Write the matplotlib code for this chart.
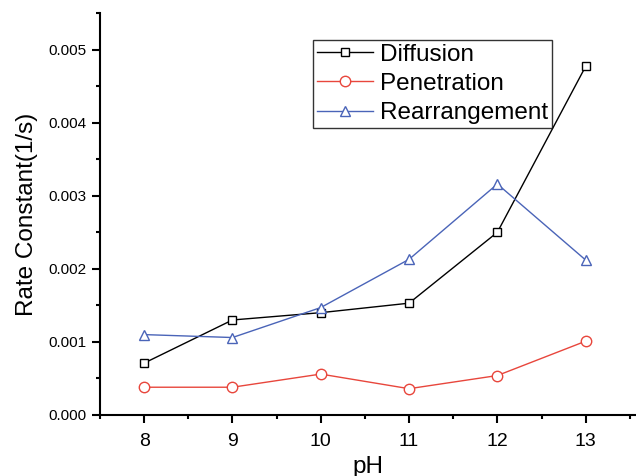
import matplotlib
matplotlib.use("Agg")
import matplotlib.pyplot as plt
from matplotlib.ticker import MultipleLocator

plt.rcParams['font.family'] = ['Liberation Sans', 'DejaVu Sans']

ph = [8, 9, 10, 11, 12, 13]
diffusion = [0.00071, 0.00130, 0.00140, 0.00153, 0.00250, 0.00477]
penetration = [0.00038, 0.00038, 0.00056, 0.00036, 0.00054, 0.00101]
rearrangement = [0.00110, 0.00106, 0.00147, 0.00213, 0.00316, 0.00212]

fig = plt.figure(figsize=(6.36, 4.76), dpi=100)
ax = fig.add_axes([100/636, 61/476, 536/636, 402/476])

ax.plot(ph, diffusion, color='black', lw=1, marker='s', ms=6, mfc='white', mec='black', mew=1, label='Diffusion')
ax.plot(ph, penetration, color='#e8463c', lw=1, marker='o', ms=7.5, mfc='white', mec='#e8463c', mew=1, label='Penetration')
ax.plot(ph, rearrangement, color='#4a64b8', lw=1, marker='^', ms=7.5, mfc='white', mec='#4a64b8', mew=1, label='Rearrangement')

ax.set_xlim(7.5, 13.57)
ax.set_ylim(0, 0.0055)
ax.xaxis.set_major_locator(MultipleLocator(1))
ax.xaxis.set_minor_locator(MultipleLocator(0.5))
ax.yaxis.set_major_locator(MultipleLocator(0.001))
ax.yaxis.set_minor_locator(MultipleLocator(0.0005))
ax.yaxis.set_major_formatter(matplotlib.ticker.FormatStrFormatter('%.3f'))

for s in ['top', 'right']:
    ax.spines[s].set_visible(False)
for s in ['left', 'bottom']:
    ax.spines[s].set_linewidth(1.5)
ax.tick_params(which='major', direction='out', length=6, width=1.5)
ax.tick_params(which='minor', direction='out', length=3, width=1.5)
ax.tick_params(axis='x', which='major', labelsize=14, pad=7)
ax.tick_params(axis='y', which='major', labelsize=11)

ax.set_xlabel('pH', fontsize=17.5, labelpad=4)
ax.set_ylabel('Rate Constant(1/s)', fontsize=17.5, labelpad=8)

leg = ax.legend(loc='upper left', bbox_to_anchor=(213/536, 1 - 27/402), fontsize=17.5,
                frameon=True, fancybox=False, edgecolor='black', borderpad=0.15,
                labelspacing=0.3, handlelength=2.3, handletextpad=0.3, borderaxespad=0)
leg.get_frame().set_linewidth(1)

fig.savefig('out.png', dpi=100)
